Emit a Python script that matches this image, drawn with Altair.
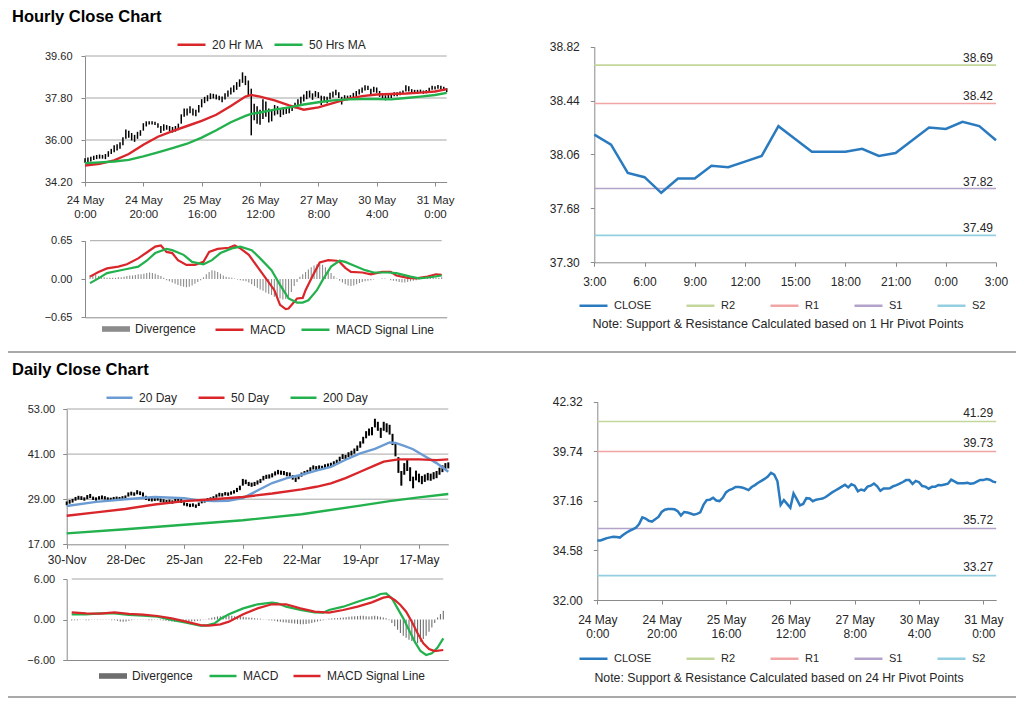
import altair as alt
import pandas as pd

W, H = 1008, 690
FONT = "Liberation Sans"
TXT = "#262626"
AXC = "#8a8a8a"
GRID = "#a6a6a6"

# ---------------- hourly data (24 May 0:00 ... 31 May 4:00, trading hours) ----------------
hourly_close = [35.10,35.10,35.16,35.22,35.26,35.29,35.28,35.25,35.38,35.50,
                35.60,35.68,35.76,35.95,36.30,36.24,36.12,36.08,36.20,36.32,
                36.58,36.70,36.74,36.74,36.72,36.62,36.40,36.58,36.55,36.50,
                36.44,36.48,36.56,36.95,37.20,37.22,37.32,37.18,37.15,37.32,
                37.60,37.72,37.78,37.88,37.88,37.85,37.80,37.72,37.88,37.98,
                38.10,38.20,38.30,38.42,38.62,38.52,38.18,36.95,37.20,37.00,
                36.80,37.55,37.25,36.92,37.00,37.30,37.28,37.14,37.22,37.25,
                37.28,37.36,37.48,37.60,37.70,37.80,37.90,38.00,37.86,38.02,
                37.95,37.66,37.75,37.70,37.90,37.95,38.06,37.92,37.68,37.80,
                37.80,37.82,37.92,37.98,38.06,38.14,38.24,38.24,38.04,38.20,
                38.13,37.93,37.90,37.79,37.89,37.89,37.98,37.97,38.01,38.05,
                38.26,38.17,38.08,38.08,38.08,38.10,38.05,38.07,38.16,38.25,
                38.24,38.29,38.26,38.16,38.12]
hourly_high = [35.22,35.25,35.28,35.33,35.36,35.38,35.36,35.40,35.52,35.62,
               35.78,35.82,35.90,36.12,36.45,36.40,36.30,36.22,36.35,36.42,
               36.72,36.80,36.80,36.80,36.78,36.72,36.60,36.68,36.64,36.60,
               36.56,36.60,36.70,37.10,37.35,37.35,37.45,37.35,37.30,37.50,
               37.75,37.85,37.92,38.00,37.98,37.95,37.90,37.86,38.00,38.12,
               38.25,38.35,38.48,38.60,38.90,38.75,38.55,38.20,37.55,37.45,
               37.30,37.75,37.65,37.35,37.30,37.50,37.45,37.32,37.40,37.38,
               37.40,37.48,37.60,37.75,37.85,37.95,38.10,38.12,38.00,38.10,
               38.05,37.90,37.88,37.85,38.02,38.08,38.15,38.05,37.85,37.92,
               37.90,37.92,38.02,38.10,38.18,38.25,38.35,38.32,38.20,38.28,
               38.25,38.10,38.00,37.92,37.98,37.98,38.05,38.05,38.08,38.12,
               38.35,38.30,38.18,38.15,38.15,38.16,38.12,38.14,38.24,38.32,
               38.30,38.36,38.33,38.28,38.22]
hourly_low = [35.02,35.05,35.08,35.14,35.18,35.20,35.20,35.18,35.28,35.40,
              35.48,35.55,35.62,35.78,36.05,36.10,35.98,35.92,36.05,36.18,
              36.40,36.58,36.66,36.66,36.64,36.52,36.30,36.40,36.44,36.38,
              36.32,36.36,36.42,36.70,37.00,37.05,37.15,37.05,37.02,37.18,
              37.40,37.58,37.66,37.75,37.78,37.74,37.70,37.62,37.74,37.85,
              37.95,38.05,38.15,38.28,38.45,38.35,37.90,36.20,36.85,36.70,
              36.65,36.90,37.00,36.75,36.80,37.05,37.10,36.98,37.08,37.12,
              37.15,37.24,37.36,37.48,37.55,37.65,37.75,37.82,37.72,37.85,
              37.80,37.50,37.62,37.58,37.75,37.82,37.92,37.80,37.52,37.68,
              37.70,37.72,37.80,37.86,37.95,38.02,38.12,38.14,37.95,38.05,
              38.02,37.85,37.80,37.70,37.78,37.80,37.88,37.88,37.92,37.96,
              38.08,38.08,38.00,38.00,38.00,38.02,37.98,38.00,38.06,38.15,
              38.16,38.20,38.18,38.10,38.05]
hourly_divergence = [0.06,0.08,0.07,0.05,0.04,0.03,0.02,0.02,0.02,0.02,
                     0.03,0.03,0.04,0.05,0.06,0.06,0.07,0.08,0.08,0.09,
                     0.10,0.11,0.10,0.09,0.07,0.05,0.02,-0.02,-0.04,-0.06,
                     -0.08,-0.10,-0.12,-0.13,-0.14,-0.13,-0.11,-0.08,-0.05,-0.02,
                     0.03,0.08,0.12,0.15,0.14,0.12,0.09,0.06,0.04,0.03,
                     0.02,0.01,-0.01,-0.02,-0.03,-0.04,-0.06,-0.09,-0.12,-0.15,
                     -0.18,-0.20,-0.23,-0.25,-0.27,-0.30,-0.32,-0.33,-0.35,-0.34,
                     -0.30,-0.22,-0.12,-0.05,0.04,0.08,0.12,0.16,0.20,0.23,
                     0.25,0.26,0.24,0.20,0.15,0.10,0.05,0.01,-0.03,-0.06,
                     -0.09,-0.11,-0.12,-0.11,-0.09,-0.07,-0.05,-0.04,-0.03,-0.02,
                     -0.01,0.00,0.00,0.01,0.01,0.00,-0.02,-0.03,-0.04,-0.05,
                     -0.06,-0.06,-0.05,-0.04,-0.03,-0.02,-0.01,0.01,0.02,0.02,
                     0.03,0.03,0.02,0.02,0.03]
hourly_tick_idx = [0, 20, 40, 60, 80, 100, 120]
hourly_tick_labels = ["24 May|0:00", "24 May|20:00", "25 May|16:00", "26 May|12:00",
                      "27 May|8:00", "30 May|4:00", "31 May|0:00"]

ma_hr_idx = [0,5,10,15,20,25,30,35,40,45,50,55,57,60,65,70,75,80,85,90,95,100,105,110,115,120,124]
ma20_hr = [34.91,34.98,35.13,35.40,35.80,36.14,36.38,36.60,36.82,37.08,37.46,37.86,37.93,37.86,
           37.70,37.48,37.30,37.40,37.58,37.76,37.88,37.95,37.97,37.99,38.03,38.08,38.18]
ma50_hr = [35.01,35.04,35.08,35.15,35.30,35.47,35.65,35.84,36.10,36.42,36.76,37.03,37.12,37.18,
           37.30,37.40,37.52,37.62,37.70,37.74,37.76,37.76,37.74,37.80,37.86,37.93,38.02]

macd_hr_idx = [0,3,6,10,13,17,20,23,25,27,29,31,34,37,40,42,45,49,51,53,56,59,62,65,67,69,70,
               73,75,76,79,81,84,87,88,90,92,96,99,103,106,108,112,115,119,122,124]
macd_hr = [0.04,0.12,0.18,0.21,0.25,0.35,0.45,0.55,0.57,0.46,0.44,0.32,0.24,0.24,0.29,0.46,0.51,
           0.53,0.57,0.52,0.41,0.21,0.01,-0.19,-0.44,-0.51,-0.50,-0.33,-0.32,-0.19,0.10,0.28,0.32,
           0.31,0.29,0.19,0.12,0.11,0.08,0.12,0.12,0.06,0.02,0.01,0.04,0.08,0.07]
signal_hr_idx = [0,3,6,10,13,17,20,23,27,29,33,36,40,43,46,50,53,57,60,64,67,70,73,75,77,80,82,
                 85,88,90,93,97,100,105,108,113,116,120,124]
signal_hr = [-0.07,0.01,0.10,0.14,0.17,0.21,0.31,0.44,0.51,0.49,0.41,0.29,0.25,0.32,0.44,0.52,
             0.55,0.49,0.35,0.15,-0.10,-0.33,-0.40,-0.40,-0.36,-0.19,-0.02,0.21,0.31,0.29,0.23,
             0.15,0.11,0.11,0.10,0.04,0.01,0.03,0.06]

pivot_1h_close = [38.20,38.13,37.93,37.90,37.79,37.89,37.89,37.98,37.97,38.01,38.05,38.26,38.17,
                  38.08,38.08,38.08,38.10,38.05,38.07,38.16,38.25,38.24,38.29,38.26,38.16]
pivot_1h_tick_idx = [0, 3, 6, 9, 12, 15, 18, 21, 24]
pivot_1h_tick_labels = ["3:00", "6:00", "9:00", "12:00", "15:00", "18:00", "21:00", "0:00", "3:00"]
pivot_names = ["R2", "R1", "S1", "S2"]
pivot_1h_levels = [38.69, 38.42, 37.82, 37.49]
pivot_24h_levels = [41.29, 39.73, 35.72, 33.27]

# ---------------- daily data (30-Nov ... end May) ----------------
daily_high = [28.4,28.8,29.1,29.6,29.9,29.8,29.5,30.1,30.4,29.7,
              29.5,29.8,30.0,29.8,29.5,29.4,29.6,29.7,29.6,29.8,
              30.0,30.8,31.0,30.8,31.4,31.1,30.8,29.9,29.5,29.3,
              29.3,29.6,29.2,29.0,28.8,28.9,28.7,29.1,29.2,29.0,
              28.2,28.0,27.8,27.9,27.6,28.1,28.8,29.0,29.3,29.5,
              29.8,30.3,30.7,30.6,30.9,30.8,31.1,31.4,32.0,32.6,
              34.4,34.2,33.6,33.4,33.6,34.0,34.4,35.2,35.5,35.6,
              35.9,36.4,36.8,36.6,36.5,36.2,36.1,35.4,34.8,35.4,
              36.1,36.5,36.8,37.5,38.0,37.8,38.0,37.9,38.3,38.5,
              38.7,39.1,39.5,40.3,41.0,40.8,41.5,41.9,42.5,43.3,
              44.4,45.6,47.1,47.8,48.2,50.4,49.6,48.0,49.6,49.2,
              48.8,46.4,44.0,40.2,36.5,38.6,39.5,37.5,35.0,36.6,
              35.8,35.2,35.6,36.0,35.8,36.2,36.5,37.4,38.0,38.6,38.8]
daily_low = [27.4,27.8,28.1,28.6,28.9,28.8,28.6,29.0,29.3,28.8,
             28.6,28.9,29.0,28.9,28.6,28.6,28.8,28.9,28.8,28.9,
             29.0,29.7,30.0,29.9,30.3,30.1,29.7,28.8,28.5,28.4,
             28.5,28.6,28.2,28.1,27.9,28.0,27.8,28.2,28.4,28.0,
             27.3,27.1,26.9,27.0,26.7,27.2,27.9,28.1,28.4,28.6,
             28.9,29.4,29.7,29.7,30.0,29.9,30.2,30.5,30.9,31.4,
             32.6,33.0,32.5,32.3,32.5,32.9,33.3,34.0,34.4,34.5,
             34.8,35.3,35.6,35.5,35.4,35.1,35.0,34.2,33.6,34.3,
             35.0,35.4,35.7,36.4,36.9,36.7,36.9,36.8,37.2,37.4,
             37.6,38.0,38.3,39.0,39.7,39.5,40.2,40.6,41.1,41.8,
             42.7,43.8,45.2,45.9,46.0,48.1,47.2,45.3,47.2,46.8,
             46.2,43.4,40.4,36.0,32.6,35.5,36.5,33.8,31.9,34.0,
             33.5,33.0,33.6,34.0,33.9,34.3,34.6,35.5,36.2,36.8,37.2]
daily_divergence = [-0.15,-0.1,-0.1,-0.05,-0.05,-0.1,-0.1,-0.05,0.05,0.05,
                    0.05,0.05,-0.05,-0.05,-0.1,-0.1,-0.2,-0.3,-0.35,-0.3,
                    -0.2,-0.1,-0.05,0.05,0.05,0.05,-0.05,-0.1,-0.1,-0.05,
                    -0.05,-0.1,-0.15,-0.2,-0.25,-0.3,-0.35,-0.3,-0.25,-0.3,
                    -0.3,-0.35,-0.3,-0.25,-0.2,-0.15,-0.05,0.05,0.15,0.25,
                    0.35,0.45,0.5,0.55,0.6,0.6,0.55,0.5,0.5,0.45,
                    0.4,0.35,0.3,0.25,0.2,0.15,0.1,0.05,-0.05,-0.1,
                    -0.15,-0.2,-0.3,-0.35,-0.4,-0.45,-0.5,-0.55,-0.6,-0.65,
                    -0.7,-0.7,-0.65,-0.6,-0.5,-0.4,-0.3,-0.2,-0.1,0.05,
                    0.1,0.15,0.2,0.2,0.25,0.3,0.35,0.4,0.45,0.5,
                    0.5,0.55,0.55,0.5,0.45,0.5,0.55,0.5,0.4,0.3,
                    0.2,-0.1,-0.5,-1.0,-1.5,-2.0,-2.4,-2.7,-3.0,-3.2,
                    -3.4,-3.5,-3.3,-2.9,-2.4,-1.8,-1.2,-0.5,0.3,0.8,1.3]
daily_tick_idx = [0, 20, 40, 60, 80, 100, 120]
daily_tick_labels = ["30-Nov", "28-Dec", "25-Jan", "22-Feb", "22-Mar", "19-Apr", "17-May"]

ma20_day_idx = [0,10,20,30,40,45,50,55,60,62,65,70,75,80,85,90,95,100,105,110,112,115,118,121,126,130]
ma20_day = [27.2,28.3,29.0,29.6,29.3,28.7,28.5,28.6,29.3,30.1,31.3,33.3,34.6,35.5,36.6,37.6,39.5,
            41.2,42.4,44.1,44.0,43.2,42.3,40.9,38.6,36.3]
ma50_day_idx = [0,10,20,30,40,50,60,70,80,85,90,95,100,105,108,113,120,126,130]
ma50_day = [24.6,25.5,26.4,27.6,28.5,29.0,29.6,30.5,31.6,32.3,33.2,34.6,36.3,38.0,39.0,39.6,39.6,39.4,39.6]
ma200_day_idx = [0,20,40,60,80,100,110,120,130]
ma200_day = [19.9,21.0,22.2,23.4,25.0,27.3,28.5,29.5,30.4]

macd_day_idx = [0,5,10,15,20,25,30,35,40,45,47,50,52,55,60,65,70,72,75,80,85,88,90,95,100,103,106,
                108,110,112,114,116,118,120,122,124,126,128,130]
macd_day = [0.77,0.77,0.91,0.91,0.67,0.57,0.42,-0.07,-0.47,-0.91,-0.91,-0.57,0.07,0.77,1.65,2.25,
            2.49,2.40,1.90,1.41,1.06,1.01,1.41,1.90,2.64,3.04,3.38,3.78,3.88,3.14,1.65,0.17,-1.56,
            -3.28,-4.67,-5.26,-5.01,-4.17,-2.79]
signal_day_idx = [0,5,10,15,20,25,30,35,40,45,48,52,55,60,65,70,75,80,85,90,95,100,105,109,111,113,
                  115,117,119,121,123,125,127,130]
signal_day = [1.06,0.91,0.86,1.06,0.82,0.72,0.52,0.17,-0.32,-0.82,-0.91,-0.72,-0.32,0.77,1.65,2.25,
              2.25,1.65,1.16,1.01,1.41,1.90,2.54,3.24,3.38,2.89,2.15,1.16,-0.32,-2.05,-3.53,-4.37,
              -4.67,-4.52]

# ---------------- colours ----------------
RED = "#d9262b"
GREEN = "#22b14c"
BLUE20 = "#6a9bd3"
CLOSE_BLUE = "#2a7abf"
PIVOT_COLORS = ["#c3d69b", "#f2a5a5", "#b3a2c9", "#93cfe0"]


# ---------------- helpers ----------------
def sc(domain, rng):
    return alt.Scale(domain=domain, range=rng, nice=False, zero=False)


def lab_expr(idx, labels, multiline):
    arr = "[" + ",".join("'%s'" % s for s in labels) + "]"
    ids = "[" + ",".join(str(i) for i in idx) + "]"
    core = "%s[indexof(%s, datum.value)]" % (arr, ids)
    return "split(%s, '|')" % core if multiline else core


def y_axis(values, x_left, size, pad):
    return alt.Axis(orient="left", offset=-x_left, values=values, format=".2f", title=None,
                    grid=False, domainColor=AXC, tickColor=AXC, tickSize=4, labelColor=TXT,
                    labelFont=FONT, labelFontSize=size, labelPadding=pad)


def x_axis(values, y_bottom, expr=None, size=11, pad=6, lh=14, labels=True, ticks=True):
    kw = dict(orient="bottom", offset=y_bottom - H, values=values, title=None, grid=False,
              domainColor=AXC, tickColor=AXC, tickSize=4, labelColor=TXT, labelFont=FONT,
              labelFontSize=size, labelPadding=pad, labelFlush=False, labelOverlap=False,
              labels=labels, ticks=ticks, labelLineHeight=lh)
    if expr is not None:
        kw["labelExpr"] = expr
    return alt.Axis(**kw)


def stroke_legend(x, y, cols, pad, size=12, sym=28):
    return alt.Legend(orient="none", legendX=x, legendY=y, direction="horizontal", columns=cols,
                      title=None, symbolType="stroke", symbolSize=sym * sym, symbolStrokeWidth=2.5,
                      labelFont=FONT, labelFontSize=size, labelColor=TXT, columnPadding=pad,
                      labelOffset=5, padding=0)


def fill_legend(x, y, size=12):
    return alt.Legend(orient="none", legendX=x, legendY=y, direction="horizontal", title=None,
                      symbolType="M-1,-0.2H1V0.2H-1Z", symbolSize=784, symbolStrokeWidth=0,
                      labelFont=FONT, labelFontSize=size, labelColor=TXT, labelOffset=5, padding=0)


def grid_layer(values, x0, x1, xs, ys, ax, ay):
    df = pd.DataFrame({"g": values, "a": [x0] * len(values), "b": [x1] * len(values)})
    return alt.Chart(df).mark_rule(color=GRID, strokeWidth=1).encode(
        x=alt.X("a:Q", scale=xs, axis=ax), x2="b:Q", y=alt.Y("g:Q", scale=ys, axis=ay))


def series_df(pairs):
    frames = [pd.DataFrame({"i": ix, "v": vals, "s": name}) for name, ix, vals in pairs]
    return pd.concat(frames, ignore_index=True)


df_h = pd.DataFrame({"i": list(range(len(hourly_close))), "c": hourly_close, "hi": hourly_high,
                     "lo": hourly_low, "d": hourly_divergence, "z": 0.0, "k": "Divergence"})
df_d = pd.DataFrame({"i": list(range(len(daily_high))), "hi": daily_high, "lo": daily_low,
                     "d": daily_divergence, "z": 0.0, "k": "Divergence"})

# ================= Panel A : hourly price =================
xA = sc([0, 124], [77, 438.7])
yA = sc([34.2, 39.6], [174, 48])
axAx = x_axis(hourly_tick_idx, 174, lab_expr(hourly_tick_idx, hourly_tick_labels, True), size=11.5, pad=8, lh=14.5)
axAy = y_axis([34.2, 36.0, 37.8, 39.6], 77, 11, 9)
dfA = series_df([("20 Hr MA", ma_hr_idx, ma20_hr), ("50 Hrs MA", ma_hr_idx, ma50_hr)])
panelA = alt.layer(
    grid_layer([36.0, 37.8, 39.6], 0, 124, xA, yA, axAx, axAy),
    alt.Chart(df_h).mark_rule(color="black", strokeWidth=1.5).encode(
        x=alt.X("i:Q", scale=xA, axis=axAx), y=alt.Y("lo:Q", scale=yA, axis=axAy), y2="hi:Q"),
    alt.Chart(dfA).mark_line(strokeWidth=2.4).encode(
        x=alt.X("i:Q", scale=xA, axis=axAx), y=alt.Y("v:Q", scale=yA, axis=axAy),
        stroke=alt.Stroke("s:N", scale=alt.Scale(domain=["20 Hr MA", "50 Hrs MA"], range=[RED, GREEN]),
                          legend=stroke_legend(168, 21, 2, 6))),
)

# ================= Panel B : hourly MACD =================
xB = sc([0, 124], [77, 438.7])
yB = sc([-0.65, 0.65], [309.3, 232.7])
axBx = x_axis([0], 309.3, labels=False, ticks=False)
axBy = y_axis([-0.65, 0.0, 0.65], 77, 11, 9)
dfB = series_df([("MACD", macd_hr_idx, macd_hr), ("MACD Signal Line", signal_hr_idx, signal_hr)])
panelB = alt.layer(
    grid_layer([0.65], 0, 124, xB, yB, axBx, axBy),
    alt.Chart(df_h).mark_bar(size=1.1).encode(
        x=alt.X("i:Q", scale=xB, axis=axBx), y=alt.Y("d:Q", scale=yB, axis=axBy), y2="z:Q",
        fill=alt.Fill("k:N", scale=alt.Scale(domain=["Divergence"], range=["#8c8c8c"]),
                      legend=fill_legend(94, 307))),
    alt.Chart(dfB).mark_line(strokeWidth=2.2).encode(
        x=alt.X("i:Q", scale=xB, axis=axBx), y=alt.Y("v:Q", scale=yB, axis=axBy),
        stroke=alt.Stroke("s:N", scale=alt.Scale(domain=["MACD", "MACD Signal Line"], range=[RED, GREEN]),
                          legend=stroke_legend(206, 306, 2, 10))),
)


# ================= Pivot panels (C and F) =================
def pivot_panel(close_vals, levels, xs, ys, axx, axy, xmax, leg, label_dy):
    names = ["CLOSE"] + pivot_names
    colors = [CLOSE_BLUE] + PIVOT_COLORS
    stroke_scale = alt.Scale(domain=names, range=colors)
    df_lv = pd.DataFrame({"s": pivot_names, "v": levels, "a": 0, "b": xmax,
                          "lbl": ["%.2f" % v for v in levels]})
    df_c = pd.DataFrame({"i": list(range(len(close_vals))), "v": close_vals, "s": "CLOSE"})
    rules = alt.Chart(df_lv).mark_rule(strokeWidth=1.6).encode(
        x=alt.X("a:Q", scale=xs, axis=axx), x2="b:Q", y=alt.Y("v:Q", scale=ys, axis=axy),
        stroke=alt.Stroke("s:N", scale=stroke_scale, legend=leg))
    line = alt.Chart(df_c).mark_line(strokeWidth=2.5).encode(
        x=alt.X("i:Q", scale=xs, axis=axx), y=alt.Y("v:Q", scale=ys, axis=axy),
        stroke=alt.Stroke("s:N", scale=stroke_scale, legend=leg))
    labels = alt.Chart(df_lv).mark_text(align="right", baseline="alphabetic", dx=-3, dy=label_dy,
                                        font=FONT, fontSize=12, color=TXT).encode(
        x=alt.X("b:Q", scale=xs, axis=axx), y=alt.Y("v:Q", scale=ys, axis=axy), text="lbl:N")
    return alt.layer(rules, line, labels)


xC = sc([0, 24], [586.3, 988])
yC = sc([37.30, 38.82], [254.3, 38.7])
axCx = x_axis(pivot_1h_tick_idx, 254.3, lab_expr(pivot_1h_tick_idx, pivot_1h_tick_labels, False), size=12, pad=10)
axCy = y_axis([37.30, 37.68, 38.06, 38.44, 38.82], 586.3, 12, 11)
panelC = pivot_panel(pivot_1h_close, pivot_1h_levels, xC, yC, axCx, axCy, 24,
                     stroke_legend(570, 282, 5, 29, size=11), -3)

xF = sc([0, 124], [589.3, 988.2])
yF = sc([32.0, 42.32], [592, 393.7])
axFx = x_axis(hourly_tick_idx, 592, lab_expr(hourly_tick_idx, hourly_tick_labels, True), size=12, pad=10, lh=14.3)
axFy = y_axis([32.00, 34.58, 37.16, 39.74, 42.32], 589.3, 12, 11)
panelF = pivot_panel(hourly_close, pivot_24h_levels, xF, yF, axFx, axFy, 124,
                     stroke_legend(570, 635, 5, 29, size=11), -4.5)

# ================= Panel D : daily price =================
xD = sc([0, 130], [58.7, 440.3])
yD = sc([17, 53], [536.3, 401])
axDx = x_axis(daily_tick_idx, 536.3, lab_expr(daily_tick_idx, daily_tick_labels, False), size=12, pad=6.5)
axDy = y_axis([17, 29, 41, 53], 58.7, 11, 8)
dfD = series_df([("20 Day", ma20_day_idx, ma20_day), ("50 Day", ma50_day_idx, ma50_day),
                 ("200 Day", ma200_day_idx, ma200_day)])
panelD = alt.layer(
    grid_layer([29, 41, 53], 0, 130, xD, yD, axDx, axDy),
    alt.Chart(df_d).mark_rule(color="black", strokeWidth=2).encode(
        x=alt.X("i:Q", scale=xD, axis=axDx), y=alt.Y("lo:Q", scale=yD, axis=axDy), y2="hi:Q"),
    alt.Chart(dfD).mark_line(strokeWidth=2.4).encode(
        x=alt.X("i:Q", scale=xD, axis=axDx), y=alt.Y("v:Q", scale=yD, axis=axDy),
        stroke=alt.Stroke("s:N", scale=alt.Scale(domain=["20 Day", "50 Day", "200 Day"],
                                                 range=[BLUE20, RED, GREEN]),
                          legend=stroke_legend(97, 375, 3, 15, sym=26))),
)

# ================= Panel E : daily MACD =================
xE = sc([0, 130], [58.7, 440.3])
yE = sc([-6, 6], [652, 571])
axEx = x_axis([0], 652, labels=False, ticks=False)
axEy = y_axis([-6, 0, 6], 58.7, 11, 8)
dfE = series_df([("MACD", macd_day_idx, macd_day), ("MACD Signal Line", signal_day_idx, signal_day)])
panelE = alt.layer(
    grid_layer([6], 0, 130, xE, yE, axEx, axEy),
    alt.Chart(df_d).mark_bar(size=1.1).encode(
        x=alt.X("i:Q", scale=xE, axis=axEx), y=alt.Y("d:Q", scale=yE, axis=axEy), y2="z:Q",
        fill=alt.Fill("k:N", scale=alt.Scale(domain=["Divergence"], range=["#6e6e6e"]),
                      legend=fill_legend(91, 654))),
    alt.Chart(dfE).mark_line(strokeWidth=2.2).encode(
        x=alt.X("i:Q", scale=xE, axis=axEx), y=alt.Y("v:Q", scale=yE, axis=axEy),
        stroke=alt.Stroke("s:N", scale=alt.Scale(domain=["MACD", "MACD Signal Line"], range=[GREEN, RED]),
                          legend=stroke_legend(200, 653, 2, 9, sym=27))),
)


# ================= decorations =================
def deco_text(text, x, y, **kw):
    return alt.Chart(pd.DataFrame({"t": [text]})).mark_text(font=FONT, **kw).encode(
        text="t:N", x=alt.value(x), y=alt.value(y))


def deco_rule(y):
    return alt.Chart(pd.DataFrame({"t": [0]})).mark_rule(color="#8c8c8c", strokeWidth=1.5).encode(
        x=alt.value(0), x2=alt.value(W), y=alt.value(y))


deco = alt.layer(
    deco_text("Hourly Close Chart", 4, 9, fontSize=16.5, fontWeight="bold", align="left",
              baseline="middle", color="black"),
    deco_text("Daily Close Chart", 4, 362, fontSize=16.5, fontWeight="bold", align="left",
              baseline="middle", color="black"),
    deco_text("Note: Support & Resistance Calculated based on 1 Hr Pivot Points", 770, 316,
              fontSize=12.6, align="center", baseline="middle", color=TXT),
    deco_text("Note: Support & Resistance Calculated based on 24 Hr Pivot Points", 771, 670,
              fontSize=12.3, align="center", baseline="middle", color=TXT),
    deco_rule(344),
    deco_rule(689),
)

chart = alt.layer(panelA, panelB, panelC, panelD, panelE, panelF, deco).resolve_scale(
    x="independent", y="independent", stroke="independent", fill="independent"
).properties(
    width=W, height=H, padding=0, autosize=alt.AutoSizeParams(type="none")
).configure(font=FONT).configure_view(stroke=None)

chart.save("out.html", embed_options={"renderer": "svg", "actions": False})
